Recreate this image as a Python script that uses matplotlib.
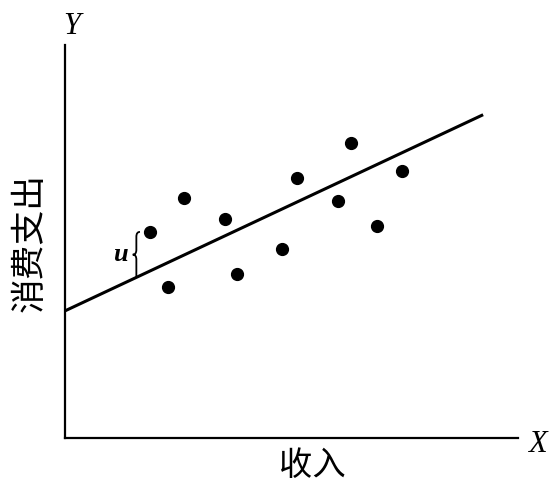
import matplotlib
matplotlib.use("Agg")
import matplotlib.pyplot as plt
from matplotlib.path import Path
from matplotlib.patches import PathPatch
import numpy as np

# scatter of income vs consumption (arbitrary units)
income = [2.11, 2.58, 2.98, 3.98, 4.28, 5.42, 5.78, 6.82, 7.14, 7.79, 8.40]
consumption = [5.14, 3.76, 5.99, 5.47, 4.09, 4.72, 6.48, 5.90, 7.35, 5.28, 6.66]

# regression line
intercept = 3.17
slope = 0.469
line_x = [0.0, 10.43]

# residual u shown for the first point
u_x = 1.78

plt.rcParams['font.family'] = ['Noto Sans CJK SC', 'DejaVu Sans']
serif = "Liberation Serif"

fig = plt.figure(figsize=(5.56, 4.82), dpi=100)
ax = fig.add_axes([65 / 556, 44 / 482, 453 / 556, 393 / 482])
ax.set_xlim(0, 11.3)
ax.set_ylim(0, 9.8)

lx = np.array(line_x)
ax.plot(lx, intercept + slope * lx, color="black", lw=2.2, solid_capstyle="butt", clip_on=False)
ax.plot(income, consumption, "o", color="black", ms=8.5)

# curly brace between the first point and the line
top = consumption[0]
bot = intercept + slope * u_x
mid = (top + bot) / 2
w, h = 0.09, 0.12
verts = [
    (u_x + w, top), (u_x, top), (u_x, top - h),
    (u_x, mid + h),
    (u_x, mid), (u_x - w, mid),
    (u_x, mid), (u_x, mid - h),
    (u_x, bot),
]
codes = [Path.MOVETO, Path.CURVE3, Path.CURVE3,
         Path.LINETO,
         Path.CURVE3, Path.CURVE3,
         Path.CURVE3, Path.CURVE3,
         Path.LINETO]
ax.add_patch(PathPatch(Path(verts, codes), fill=False, lw=1.3, color="black"))
ax.text(1.37, mid, "u", family=serif, style="italic", fontweight="bold", fontsize=19,
        ha="center", va="center")

for s in ["top", "right"]:
    ax.spines[s].set_visible(False)
for s in ["left", "bottom"]:
    ax.spines[s].set_linewidth(1.6)
ax.set_xticks([])
ax.set_yticks([])

fig.text(72 / 556, 1 - 27 / 482, "Y", family=serif, style="italic", fontsize=22,
         ha="center", va="center")
fig.text(537 / 556, 1 - 444 / 482, "X", family=serif, style="italic", fontsize=22,
         ha="center", va="center")
fig.text(312 / 556, 1 - 465 / 482, "收入", fontsize=24, ha="center", va="center")
fig.text(30 / 556, 1 - 243 / 482, "消费支出", fontsize=25, rotation=90, ha="center", va="center")

fig.savefig("out.png", dpi=100)
